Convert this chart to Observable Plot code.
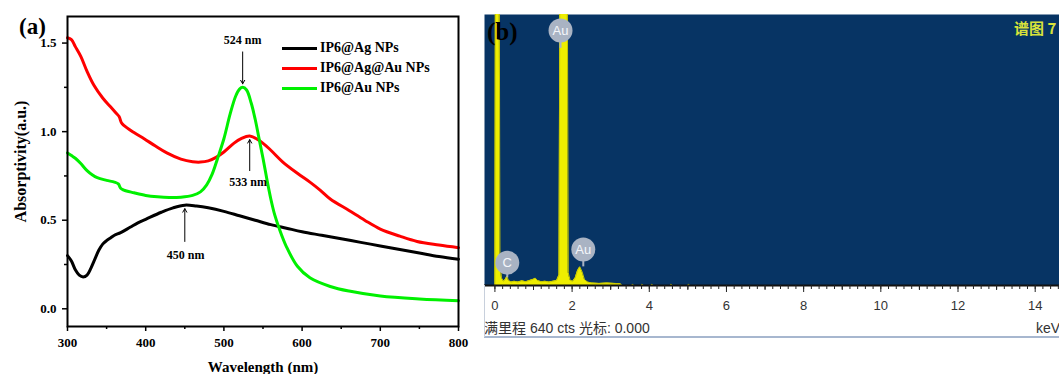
<!DOCTYPE html>
<html><head><meta charset="utf-8">
<script src="https://cdn.jsdelivr.net/npm/d3@7"></script>
<script src="https://cdn.jsdelivr.net/npm/@observablehq/plot@0.6"></script>
<style>
html,body{margin:0;padding:0;background:#fff;}
#wrap{position:relative;width:1059px;height:374px;overflow:hidden;background:#fff;}
.abs{position:absolute;white-space:nowrap;line-height:1;}
.leg{position:absolute;left:282px;top:38px;}
.row{display:flex;align-items:center;height:20px;}
.row .sw{width:35px;height:3px;margin-right:3px;}
.row span{font-family:'Liberation Serif','Times New Roman',serif;font-weight:bold;font-size:14px;}
</style></head><body><div id="wrap"></div>
<script>
// ---------- Panel (a): UV-vis spectra ----------
const seriesNames = ["IP6@Ag NPs", "IP6@Ag@Au NPs", "IP6@Au NPs"];
const seriesColors = ["#000000", "#ff0000", "#00f000"];

const agNm  = [300,305,310,315,320,325,330,335,340,345,350,355,360,368,380,390,400,420,435,450,465,480,500,520,540,560,580,600,625,650,675,700,725,750,775,800];
const agAbs = [0.30,0.27,0.22,0.19,0.18,0.19,0.23,0.28,0.33,0.365,0.385,0.40,0.415,0.43,0.46,0.485,0.505,0.545,0.57,0.585,0.58,0.57,0.55,0.525,0.50,0.475,0.455,0.435,0.415,0.395,0.375,0.355,0.335,0.315,0.295,0.28];

const agauNm  = [300,305,310,317,325,334,345,355,362,366,369,372,385,398,412,427,445,460,470,480,490,500,513,522,533,547,560,575,594,610,623,636,660,680,700,725,747,775,800];
const agauAbs = [1.53,1.52,1.48,1.425,1.34,1.26,1.19,1.14,1.105,1.085,1.05,1.035,0.995,0.96,0.92,0.88,0.845,0.83,0.828,0.835,0.855,0.885,0.935,0.96,0.975,0.945,0.895,0.83,0.765,0.715,0.67,0.62,0.555,0.50,0.45,0.41,0.38,0.36,0.345];

const auNm  = [300,305,310,317,325,332,338,350,360,365,368,372,385,400,415,430,445,460,470,478,485,492,500,508,515,520,524,529,535,540,545,550,555,560,565,571,580,594,610,636,660,700,750,800];
const auAbs = [0.88,0.865,0.85,0.82,0.78,0.755,0.74,0.725,0.715,0.705,0.68,0.67,0.655,0.64,0.632,0.628,0.63,0.64,0.66,0.70,0.76,0.85,0.96,1.10,1.20,1.24,1.25,1.235,1.16,1.07,0.96,0.85,0.73,0.62,0.53,0.45,0.35,0.24,0.175,0.126,0.10,0.072,0.055,0.045];

const xMajor = [300,400,500,600,700,800];
const xMinor = [350,450,550,650,750];
const yMajor = [0,0.5,1.0,1.5];
const yMinor = [0.25,0.75,1.25];

const peakNm     = [524, 533, 450];
const peakText   = ["524 nm", "533 nm", "450 nm"];
const arrowFrom  = [1.45, 0.78, 0.38];
const arrowTo    = [1.27, 0.955, 0.565];
const labelAt    = [1.515, 0.715, 0.305];
const labelNm    = [524, 531, 451];

// ---------- Panel (b): EDS spectrum ----------
const edsKeV = [0,0.02,0.10,0.13,0.17,0.22,0.27,0.31,0.35,0.42,0.5,0.6,0.7,0.8,0.9,1.0,1.05,1.1,1.2,1.3,1.4,1.5,1.6,1.66,1.70,1.86,1.90,1.95,2.02,2.08,2.14,2.2,2.26,2.32,2.4,2.5,2.7,2.9,3.1,3.25,3.3,3.55,3.57,3.6,3.8,3.82,3.85,4.05,4.07,4.1,4.55,4.57,4.6,5.0,5.02,5.05,14.6];
const edsCts = [0,1200,1200,60,18,10,14,22,12,8,10,8,11,9,12,15,17,12,9,10,8,10,12,25,1200,1200,30,12,10,18,35,44,32,14,8,6,5,6,5,4,0,0,3,0,0,3,0,0,3,0,0,3,0,0,3,0,0];
const keVMajor = [0,2,4,6,8,10,12,14];
const keVMinor = d3.range(0, 14.61, 0.2).map(v => +v.toFixed(1));
const keVMid = [1,3,5,7,9,11,13];

const tagText = ["Au", "C", "Au"];
const tagKeV  = [1.70, 0.32, 2.29];
const tagCts  = [602, 54, 85];
const tagStem = [560, 18, 44];

const serif = "'Liberation Serif','Times New Roman',serif";
const sans = "'Liberation Sans',Arial,sans-serif";

const uvRows = [
  ...agNm.map((n, i) => ({nm: n, a: agAbs[i], s: seriesNames[0]})),
  ...agauNm.map((n, i) => ({nm: n, a: agauAbs[i], s: seriesNames[1]})),
  ...auNm.map((n, i) => ({nm: n, a: auAbs[i], s: seriesNames[2]}))
];
const annRows = peakNm.map((n, i) => ({nm: n, y1: arrowFrom[i], y2: arrowTo[i], ly: labelAt[i], lx: labelNm[i], t: peakText[i]}));

const plotA = Plot.plot({
  width: 480, height: 374,
  marginLeft: 67, marginTop: 16, marginRight: 22, marginBottom: 48,
  style: {fontFamily: serif, fontWeight: "bold", fontSize: "13px", color: "#000", background: "transparent"},
  x: {domain: [300, 800], label: null},
  y: {domain: [-0.1, 1.65], label: null},
  color: {domain: seriesNames, range: seriesColors},
  marks: [
    Plot.line(uvRows, {x: "nm", y: "a", z: "s", stroke: "s", strokeWidth: 3, curve: "catmull-rom"}),
    Plot.arrow(annRows, {x1: "nm", x2: "nm", y1: "y1", y2: "y2", stroke: "#000", strokeWidth: 1, headLength: 6}),
    Plot.text(annRows, {x: "lx", y: "ly", text: "t", fontSize: 12, fontWeight: "bold"}),
    Plot.frame({stroke: "#000", strokeWidth: 2}),
    Plot.axisX({ticks: xMajor, tickSize: 5, tickPadding: 6, strokeWidth: 1.5, label: null, tickFormat: d => d}),
    Plot.axisX({ticks: xMinor, tickSize: 3, strokeWidth: 1.5, label: null, tickFormat: () => ""}),
    Plot.axisY({ticks: yMajor, tickSize: 5, tickPadding: 6, strokeWidth: 1.5, label: null, tickFormat: d3.format(".1f")}),
    Plot.axisY({ticks: yMinor, tickSize: 3, strokeWidth: 1.5, label: null, tickFormat: () => ""}),
    Plot.text(["Wavelength (nm)"], {frameAnchor: "bottom", lineAnchor: "bottom", dy: 45, fontSize: 15, fontWeight: "bold"}),
    Plot.text(["Absorptivity(a.u.)"], {frameAnchor: "left", textAnchor: "middle", lineAnchor: "middle", rotate: -90, dx: -47, dy: -10, fontSize: 16, fontWeight: "bold"})
  ]
});
plotA.style.position = "absolute";
plotA.style.left = "0px";
plotA.style.top = "0px";

const edsRows = edsKeV.map((k, i) => ({k, c: edsCts[i]}));
const tagRows = tagText.map((t, i) => ({t, k: tagKeV[i], c: tagCts[i], s: tagStem[i]}));

const plotB = Plot.plot({
  width: 575, height: 345,
  marginLeft: 0, marginRight: 0, marginTop: 14, marginBottom: 60,
  style: {fontFamily: sans, fontSize: "13px", color: "#222", background: "transparent"},
  x: {domain: [-0.27, 14.63], label: null},
  y: {domain: [0, 640], label: null, axis: null},
  marks: [
    Plot.frame({fill: "#073464", stroke: null}),
    Plot.areaY(edsRows, {x: "k", y: "c", fill: "#eeee00", clip: true}),
    Plot.lineY(edsRows, {x: "k", y: "c", stroke: "#c8c800", strokeWidth: 1, clip: true}),
    Plot.ruleX(tagRows, {x: "k", y1: "s", y2: "c", stroke: "#a9b3c3", strokeWidth: 2}),
    Plot.dot(tagRows, {x: "k", y: "c", r: 12, fill: "#a9b3c3"}),
    Plot.text(tagRows, {x: "k", y: "c", text: "t", fill: "#f5f7fb", fontSize: 13}),
    Plot.ruleY([0], {stroke: "#111", strokeWidth: 2}),
    Plot.axisX({ticks: keVMinor, tickSize: 4, stroke: "#222", label: null, tickFormat: () => ""}),
    Plot.axisX({ticks: keVMid, tickSize: 5, stroke: "#222", label: null, tickFormat: () => ""}),
    Plot.axisX({ticks: keVMajor, tickSize: 7, tickPadding: 8, stroke: "#222", fill: "#333", fontSize: 13, label: null, tickFormat: d => d})
  ]
});
plotB.style.position = "absolute";
plotB.style.left = "484px";
plotB.style.top = "0px";

const wrap = document.getElementById("wrap");
wrap.appendChild(plotA);
wrap.appendChild(plotB);

function addDiv(html, css) {
  const d = document.createElement("div");
  d.className = "abs";
  d.innerHTML = html;
  Object.assign(d.style, css);
  wrap.appendChild(d);
  return d;
}
// panel letters
addDiv("(a)", {left: "19px", top: "15px", fontFamily: serif, fontWeight: "bold", fontSize: "23px", color: "#000"});
addDiv("(b)", {left: "487px", top: "19px", fontFamily: serif, fontWeight: "bold", fontSize: "25px", color: "#000"});
// legend
const leg = document.createElement("div");
leg.className = "leg";
seriesNames.forEach((n, i) => {
  const r = document.createElement("div");
  r.className = "row";
  r.innerHTML = `<div class="sw" style="background:${seriesColors[i]}"></div><span>${n}</span>`;
  leg.appendChild(r);
});
wrap.appendChild(leg);
// EDS window texts
addDiv("谱图 7", {left: "1014px", top: "20px", fontFamily: "'Noto Sans CJK SC',sans-serif", fontWeight: "bold", fontSize: "15px", color: "#d8e23a"});
addDiv("满里程 640 cts 光标: 0.000", {left: "484px", top: "321px", fontFamily: "'Liberation Sans','Noto Sans CJK SC',sans-serif", fontSize: "14px", color: "#333"});
addDiv("keV", {left: "1036px", top: "321px", fontFamily: sans, fontSize: "14px", color: "#333"});
addDiv("", {left: "484px", top: "336px", width: "575px", height: "2px", background: "#a7b7cf"});
addDiv("", {left: "484px", top: "285px", width: "1px", height: "52px", background: "#c8d0dc"});
</script>
</body></html>
